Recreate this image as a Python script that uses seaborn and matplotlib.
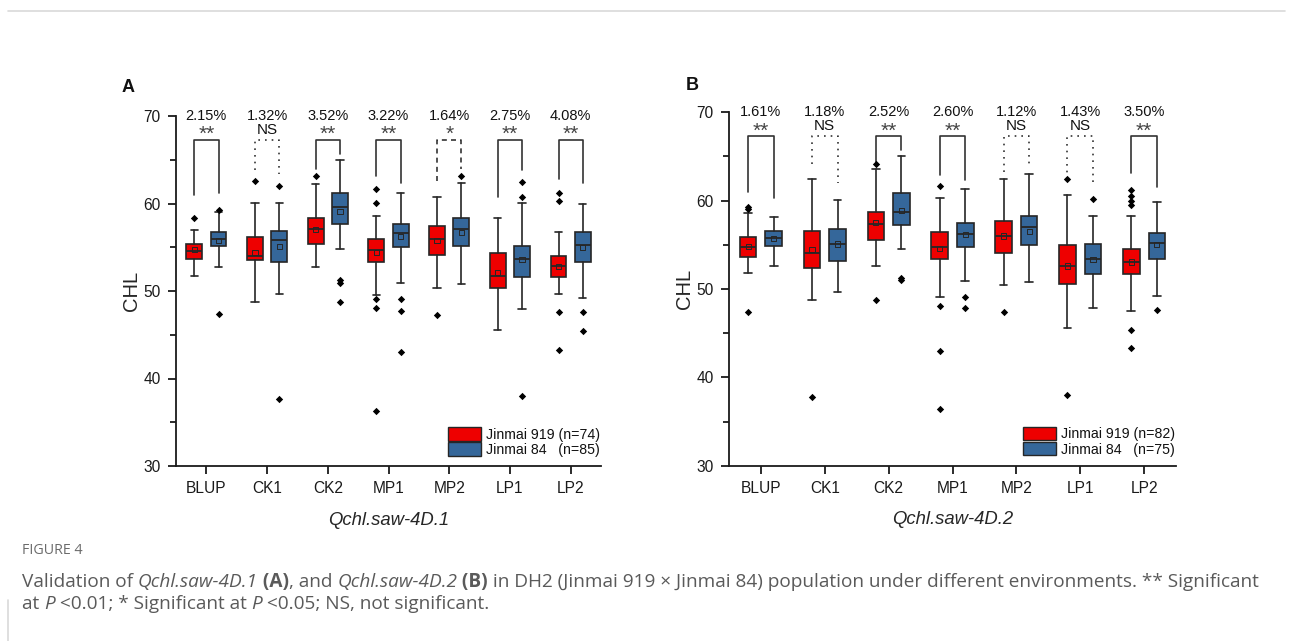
import matplotlib
matplotlib.use("Agg")
import matplotlib.pyplot as plt
from matplotlib.patches import Patch
from matplotlib.ticker import MultipleLocator
import pandas as pd
import seaborn as sns

envs = ["BLUP", "CK1", "CK2", "MP1", "MP2", "LP1", "LP2"]

# box summaries per environment: (whisker low, q1, median, q3, whisker high)
a_919_box = [(51.75, 53.7, 54.6, 55.4, 57.0), (48.8, 53.5, 54.0, 56.2, 60.1),
             (52.7, 55.4, 57.1, 58.4, 62.2), (49.5, 53.3, 54.7, 55.9, 58.6),
             (50.4, 54.1, 56.0, 57.4, 60.8), (45.6, 50.3, 51.7, 54.3, 58.4),
             (49.65, 51.6, 52.9, 54.0, 56.7)]
a_919_mean = [54.7, 54.4, 57.0, 54.4, 55.75, 52.1, 52.8]
a_919_out = [[58.4], [62.6], [63.1], [61.7, 60.1, 49.1, 48.1, 36.3], [47.3], [],
             [61.2, 60.3, 47.6, 43.3]]
a_84_box = [(52.7, 55.1, 55.9, 56.7, 59.0), (49.7, 53.35, 55.8, 56.9, 60.1),
            (54.8, 57.7, 59.6, 61.2, 65.0), (50.9, 55.0, 56.6, 57.7, 61.2),
            (50.8, 55.2, 57.1, 58.3, 62.4), (47.9, 51.6, 53.7, 55.1, 60.1),
            (49.2, 53.35, 55.3, 56.8, 60.0)]
a_84_mean = [55.8, 55.1, 59.1, 56.2, 56.7, 53.6, 55.0]
a_84_out = [[59.3, 47.4], [62.0, 37.7], [51.3, 50.95, 48.8], [49.1, 47.75, 43.0], [63.1],
            [62.5, 60.7, 38.0], [47.55, 45.4]]
a_pct = ["2.15%", "1.32%", "3.52%", "3.22%", "1.64%", "2.75%", "4.08%"]
a_sig = ["**", "NS", "**", "**", "*", "**", "**"]
a_legs = [(61.0, 61.2), (63.8, 63.4), (63.9, 65.7), (63.1, 62.3), (62.6, 63.9), (60.8, 63.8), (62.8, 62.3)]
a_n = (74, 85)

b_919_box = [(51.8, 53.65, 54.8, 55.85, 58.6), (48.75, 52.4, 54.1, 56.55, 62.5),
             (52.6, 55.5, 57.35, 58.75, 63.6), (49.1, 53.4, 54.8, 56.5, 60.3),
             (50.4, 54.1, 56.0, 57.7, 62.4), (45.6, 50.55, 52.6, 55.0, 60.6),
             (47.55, 51.65, 53.0, 54.5, 58.3)]
b_919_mean = [54.85, 54.5, 57.5, 54.6, 56.0, 52.6, 53.05]
b_919_out = [[59.3, 59.1, 47.4], [37.75], [64.1, 48.75], [61.7, 48.1, 43.0, 36.4], [47.4],
             [62.45, 38.0], [61.2, 60.5, 60.0, 59.5, 45.4, 43.3]]
b_84_box = [(52.6, 54.9, 55.8, 56.55, 58.1), (49.7, 53.2, 55.05, 56.8, 60.1),
            (54.5, 57.3, 58.75, 60.9, 65.0), (50.9, 54.7, 56.2, 57.5, 61.3),
            (50.75, 55.0, 57.0, 58.3, 63.0), (47.9, 51.65, 53.35, 55.05, 58.25),
            (49.2, 53.35, 55.2, 56.3, 59.9)]
b_84_mean = [55.7, 55.1, 58.9, 56.15, 56.55, 53.35, 55.0]
b_84_out = [[], [], [51.3, 51.0], [49.1, 47.8], [], [60.15], [47.6]]
b_pct = ["1.61%", "1.18%", "2.52%", "2.60%", "1.12%", "1.43%", "3.50%"]
b_sig = ["**", "NS", "**", "**", "NS", "NS", "**"]
b_legs = [(61.0, 60.3), (64.15, 62.0), (63.9, 65.7), (62.9, 62.3), (63.2, 64.15), (62.4, 61.8), (63.1, 61.6)]
b_n = (82, 75)

RED = "#ee0000"
BLUE = "#35679a"
EDGE = "#262626"
W, H = 1292, 641

sns.set_theme(style="ticks")
plt.rcParams["font.family"] = ["Liberation Sans", "DejaVu Sans"]
plt.rcParams["axes.linewidth"] = 1.3
plt.rcParams["axes.edgecolor"] = "#1a1a1a"
plt.rcParams["text.color"] = "#111111"
plt.rcParams["xtick.color"] = "#1a1a1a"
plt.rcParams["ytick.color"] = "#1a1a1a"


def stats_of(box, means):
    out = []
    for (lo, q1, med, q3, hi), m in zip(box, means):
        out.append(dict(whislo=lo, q1=q1, med=med, q3=q3, whishi=hi, mean=m, fliers=[]))
    return out


def draw_panel(ax, boxes, pcts, sigs, legs, n, xlabel):
    off = 0.2
    for k, (box, mean, outs, col) in enumerate(boxes):
        sgn = -1 if k == 0 else 1
        pos = [i + sgn * off for i in range(len(envs))]
        ax.bxp(stats_of(box, mean), positions=pos, widths=0.26, patch_artist=True,
               showfliers=False, showmeans=False, capwidths=0.12,
               boxprops=dict(facecolor=col, edgecolor=EDGE, linewidth=1.2),
               medianprops=dict(color=EDGE, linewidth=1.3),
               whiskerprops=dict(color=EDGE, linewidth=1.2),
               capprops=dict(color=EDGE, linewidth=1.2), manage_ticks=False)
        mdf = pd.DataFrame({"x": pos, "y": mean})
        sns.scatterplot(data=mdf, x="x", y="y", marker="s", s=14, facecolor="none",
                        edgecolor=EDGE, linewidth=0.7, ax=ax, zorder=5)
        odf = pd.DataFrame([(pos[i], v) for i, vals in enumerate(outs) for v in vals],
                           columns=["x", "y"])
        sns.scatterplot(data=odf, x="x", y="y", marker="D", s=14, color="black",
                        linewidth=0, ax=ax, zorder=5)

    styles = {"**": "-", "NS": (0, (1, 3)), "*": (0, (3, 2.5))}
    for i, (p, s, (l, r)) in enumerate(zip(pcts, sigs, legs)):
        ax.plot([i - off, i - off, i + off, i + off], [l, 67.3, 67.3, r], color="#333333",
                lw=1.2, ls=styles[s], clip_on=False)
        ax.text(i, 70.0, p, ha="center", va="center", fontsize=10.5, clip_on=False)
        if s == "NS":
            ax.text(i, 68.45, s, ha="center", va="center", fontsize=11, clip_on=False)
        else:
            ax.text(i, 67.9, s, ha="center", va="center", fontsize=15, color="#444444",
                    clip_on=False)

    ax.set_xlim(-0.5, 6.5)
    ax.set_ylim(30, 70)
    ax.set_xticks(range(len(envs)))
    ax.set_xticklabels(envs)
    ax.set_yticks([30, 40, 50, 60, 70])
    ax.yaxis.set_minor_locator(MultipleLocator(5))
    ax.tick_params(axis="both", which="major", length=6, width=1.3, labelsize=11.2, pad=5)
    ax.tick_params(axis="y", which="minor", length=4, width=1.3)
    ax.set_xlabel(xlabel, style="italic", fontsize=13.3, labelpad=11)
    ax.set_ylabel("CHL", fontsize=14.5, labelpad=2)
    sns.despine(ax=ax)
    handles = [Patch(facecolor=RED, edgecolor=EDGE, lw=1.0),
               Patch(facecolor=BLUE, edgecolor=EDGE, lw=1.0)]
    ax.legend(handles, [f"Jinmai 919 (n={n[0]})", f"Jinmai 84   (n={n[1]})"],
              loc="lower right", bbox_to_anchor=(1.0, 0.022), frameon=False, fontsize=10.2,
              handlelength=2.3, handleheight=1.1, labelspacing=0.05, handletextpad=0.35,
              borderaxespad=0.0, borderpad=0.1)


fig = plt.figure(figsize=(W / 100, H / 100), dpi=100)
ax_a = fig.add_axes([176 / W, 1 - 466 / H, 425 / W, 350 / H])
ax_b = fig.add_axes([729 / W, 1 - 465.7 / H, 447 / W, 353.4 / H])

draw_panel(ax_a, [(a_919_box, a_919_mean, a_919_out, RED), (a_84_box, a_84_mean, a_84_out, BLUE)],
           a_pct, a_sig, a_legs, a_n, "Qchl.saw-4D.1")
draw_panel(ax_b, [(b_919_box, b_919_mean, b_919_out, RED), (b_84_box, b_84_mean, b_84_out, BLUE)],
           b_pct, b_sig, b_legs, b_n, "Qchl.saw-4D.2")

fig.text(128 / W, 1 - 87 / H, "A", fontsize=13, weight="bold", ha="center", va="center")
fig.text(692 / W, 1 - 86 / H, "B", fontsize=13, weight="bold", ha="center", va="center")

# page frame
fig.add_artist(plt.Line2D([8 / W, 1285 / W], [1 - 11 / H, 1 - 11 / H], color="#d9d9d9", lw=1.2))
fig.add_artist(plt.Line2D([8 / W, 8 / W], [0, 1 - 600 / H], color="#d9d9d9", lw=1.2))

# caption
fig.text(22 / W, 1 - 551 / H, "FIGURE 4", fontsize=10.3, color="#6b6b6b", family="Open Sans",
         va="center")
renderer = fig.canvas.get_renderer()


def draw_runs(x, y, runs):
    for s, st, wt in runs:
        t = fig.text(x / W, 1 - y / H, s, style=st, weight=wt, va="center", ha="left",
                     fontsize=13.7, color="#5a5a5a", family="Open Sans")
        x += t.get_window_extent(renderer).width


draw_runs(22, 582, [("Validation of ", "normal", "normal"), ("Qchl.saw-4D.1", "italic", "normal"),
                    (" (A)", "normal", "bold"), (", and ", "normal", "normal"),
                    ("Qchl.saw-4D.2", "italic", "normal"), (" (B)", "normal", "bold"),
                    (" in DH2 (Jinmai 919 \u00d7 Jinmai 84) population under different environments. ** Significant",
                     "normal", "normal")])
draw_runs(22, 604, [("at ", "normal", "normal"), ("P", "italic", "normal"),
                    (" <0.01; * Significant at ", "normal", "normal"), ("P", "italic", "normal"),
                    (" <0.05; NS, not significant.", "normal", "normal")])

fig.savefig("out.png", dpi=100)
